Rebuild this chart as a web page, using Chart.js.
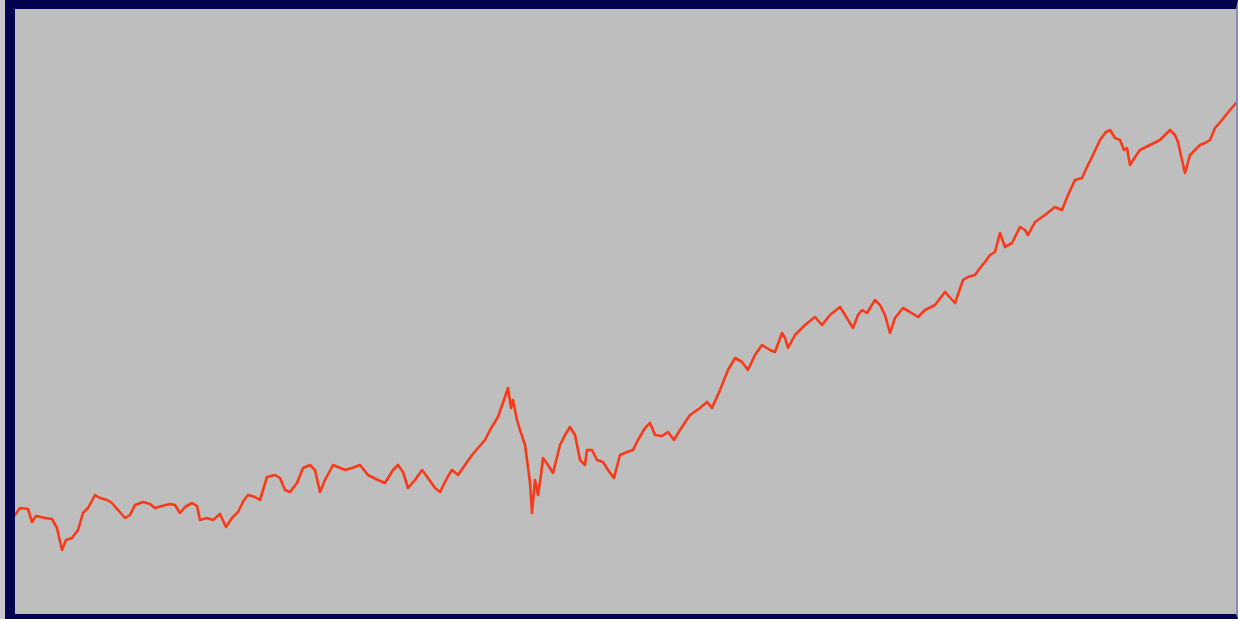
<!DOCTYPE html>
<html>
<head>
<meta charset="utf-8">
<script src="https://cdn.jsdelivr.net/npm/chart.js@4"></script>
<style>
  html, body { margin: 0; padding: 0; background: #c6c6cc; overflow: hidden; }
  #frame {
    position: absolute; left: 5px; top: 0;
    width: 1221px; height: 605px;
    border-left: 10px solid #02024e;
    border-top: 9px solid #02024e;
    border-bottom: 5px solid #02024e;
    border-right: 2px solid #8a8ab8;
    background: #bebebe;
  }
  #wrap { position: relative; width: 1221px; height: 605px; }
</style>
</head>
<body>
<div id="frame"><div id="wrap"><canvas id="c"></canvas></div></div>
<script>
// time index (arbitrary units along the horizontal axis)
const timeIndex = [0,5,13,17,21,30,37,42,47,51,57,63,68,73,80,85,92,97,103,110,115,120,128,135,140,147,155,160,165,170,177,182,185,192,198,205,211,217,223,229,233,240,245,252,260,265,270,275,282,288,295,300,305,310,318,323,330,337,345,353,363,370,378,383,388,393,400,407,413,420,425,432,437,443,450,457,463,470,475,483,490,493,496,498,502,505,510,513,515,517,520,523,526,528,533,538,545,550,555,560,565,570,572,577,582,588,593,599,605,612,618,623,630,635,640,647,653,659,665,675,685,692,697,705,713,720,727,733,740,747,755,760,767,770,773,780,790,800,807,815,825,830,838,843,847,852,860,865,870,875,880,888,895,903,910,920,930,940,948,953,960,965,970,975,980,985,990,997,1005,1010,1013,1020,1030,1040,1047,1053,1060,1067,1073,1077,1085,1091,1095,1100,1105,1109,1112,1115,1120,1125,1135,1145,1155,1160,1163,1167,1170,1175,1180,1185,1190,1195,1200,1207,1215,1221];
// series level (arbitrary units)
const seriesValues = [99,106,105,92,98,96,95,86,64,74,76,84,101,106,119,116,114,111,104,96,99,109,112,110,106,108,110,109,101,107,111,108,94,96,94,100,87,96,102,114,119,117,114,137,139,136,124,122,131,146,149,144,122,134,149,147,144,146,149,139,134,131,144,149,142,126,134,144,136,126,122,136,144,139,149,159,166,174,184,197,217,226,206,214,194,184,169,147,131,101,134,119,139,156,149,141,169,179,187,179,154,149,164,164,154,152,144,136,159,162,164,174,186,191,179,178,182,174,184,199,206,212,206,224,244,256,252,244,259,269,264,262,281,276,266,279,289,297,289,299,307,299,286,299,304,301,314,309,299,281,296,306,302,297,304,309,322,311,334,337,339,346,352,359,362,381,367,371,387,384,379,392,399,407,404,419,434,436,449,457,474,482,484,476,474,464,466,449,457,464,469,474,484,479,472,454,441,459,464,469,471,474,486,494,504,511];
const xMin = 0, xMax = 1221, yMin = 0, yMax = 605;

new Chart(document.getElementById('c'), {
  type: 'line',
  data: {
    datasets: [{
      data: timeIndex.map((t, i) => ({ x: t, y: seriesValues[i] })),
      borderColor: '#f83a18',
      borderWidth: 2.6,
      borderJoinStyle: 'round',
      borderCapStyle: 'round',
      pointRadius: 0,
      tension: 0,
      fill: false
    }]
  },
  options: {
    responsive: true,
    maintainAspectRatio: false,
    animation: false,
    layout: { padding: 0 },
    plugins: { legend: { display: false }, tooltip: { enabled: false } },
    scales: {
      x: { type: 'linear', min: xMin, max: xMax, display: false },
      y: { type: 'linear', min: yMin, max: yMax, display: false }
    }
  }
});
</script>
</body>
</html>
